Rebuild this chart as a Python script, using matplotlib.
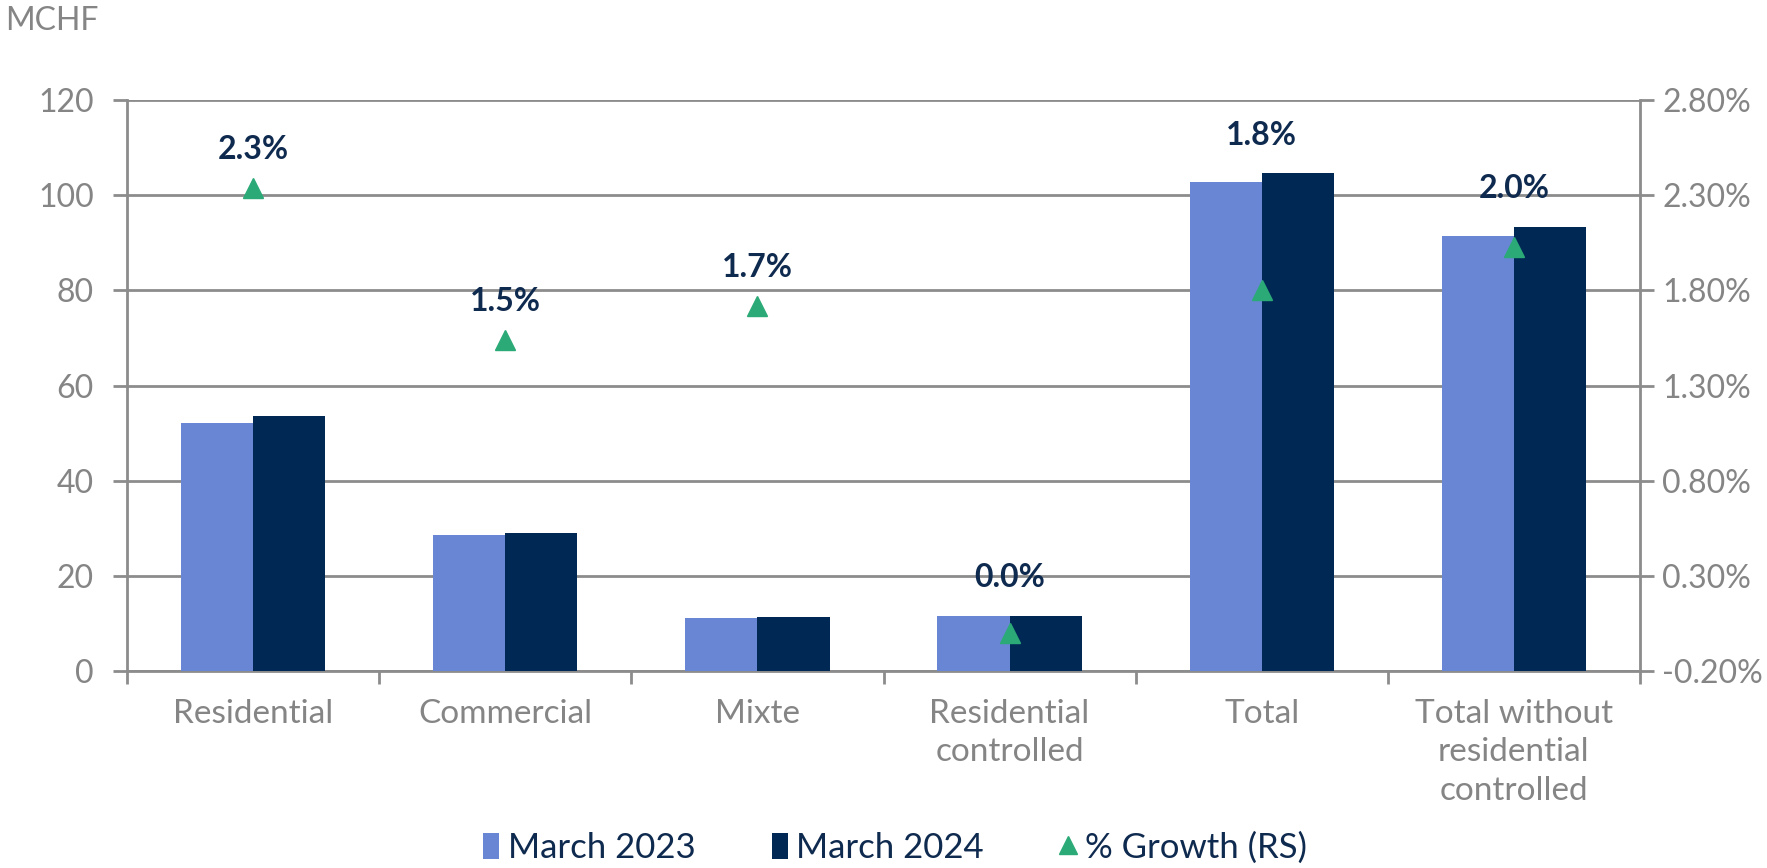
import matplotlib
matplotlib.use("Agg")
import matplotlib.pyplot as plt
import numpy as np

# Data
categories = ["Residential", "Commercial", "Mixte", "Residential\ncontrolled",
              "Total", "Total without\nresidential\ncontrolled"]
march_2023 = [52.1, 28.6, 11.1, 11.6, 102.7, 91.4]
march_2024 = [53.5, 28.9, 11.4, 11.6, 104.6, 93.3]
growth = [2.34, 1.54, 1.72, 0.0, 1.80, 2.03]   # % growth (right scale)

light_blue = "#6886D4"
navy = "#002855"
green = "#2BAA77"
gray = "#8C8C8C"
txt_gray = "#858585"
label_col = "#0F2A4F"

plt.rcParams['font.family'] = ['Lato', 'DejaVu Sans']

fig = plt.figure(figsize=(17.67, 8.68), dpi=100)
ax = fig.add_axes([127/1767, 1 - 671/868, (1640 - 127)/1767, (671 - 100)/868])
ax2 = ax.twinx()

x = np.arange(len(categories))
w = 0.286
ax.bar(x - w/2, march_2023, w, color=light_blue, label="March 2023", zorder=3)
ax.bar(x + w/2, march_2024, w, color=navy, label="March 2024", zorder=3)

ax.set_ylim(0, 120)
ax.set_yticks(np.arange(0, 121, 20))
ax.set_xlim(-0.5, len(categories) - 0.5)
ax.grid(axis='y', color=gray, lw=2, zorder=0)
ax.set_axisbelow(True)

# category boundaries as major ticks, names as minor ticks
ax.set_xticks(np.arange(-0.5, len(categories), 1))
ax.set_xticklabels([])
ax.set_xticks(x, minor=True)
ax.set_xticklabels(categories, minor=True, fontsize=24, color=txt_gray,
                   linespacing=1.35)
ax.tick_params(axis='x', which='major', length=9, width=2, color=gray)
ax.tick_params(axis='x', which='minor', length=0, pad=20)
ax.tick_params(axis='y', length=10, width=2, color=gray, labelsize=23,
               labelcolor=txt_gray, pad=14)

ax.spines['top'].set_visible(False)
ax2.spines['top'].set_visible(False)
for s in ['left', 'bottom']:
    ax.spines[s].set_color(gray)
    ax.spines[s].set_linewidth(2)
ax2.spines['right'].set_color(gray)
ax2.spines['right'].set_linewidth(2)
ax2.spines['left'].set_visible(False)
ax2.spines['bottom'].set_visible(False)

ax2.plot(x, growth, linestyle='none', marker='^', ms=15, color=green,
         label="% Growth (RS)", zorder=5)
ax2.set_ylim(-0.2, 2.8)
ax2.set_yticks(np.arange(-0.2, 2.81, 0.5))
ax2.set_yticklabels([f"{v:.2f}%" for v in np.arange(-0.2, 2.81, 0.5)])
ax2.tick_params(axis='y', length=10, width=2, color=gray, labelsize=23,
                labelcolor=txt_gray, pad=6)

# growth labels above the higher of the marker and the bars
for i, g in enumerate(growth):
    g_left = (g + 0.2) / 3.0 * 120
    top = max(g_left, march_2023[i], march_2024[i])
    ax.text(x[i], top + 8, f"{g:.1f}%", ha='center', va='center',
            fontsize=23, fontweight='bold', color=label_col, zorder=6)

fig.text(5/1767, 1 - 21/868, "MCHF", fontsize=23, color=txt_gray,
         va='center', ha='left')

h1, l1 = ax.get_legend_handles_labels()
h2, l2 = ax2.get_legend_handles_labels()
fig.legend(h1 + h2, l1 + l2, loc='center', bbox_to_anchor=(895/1767, 1 - 848/868),
           ncol=3, frameon=False, fontsize=25, labelcolor=label_col,
           handlelength=0.45, handleheight=0.8, handletextpad=0.25,
           columnspacing=2.2, markerscale=0.9)

fig.savefig("out.png", dpi=100)
